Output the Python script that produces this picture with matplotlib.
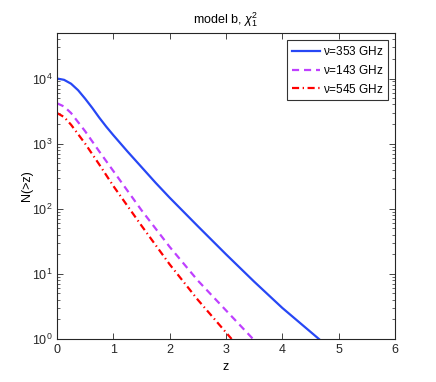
import matplotlib
matplotlib.use('Agg')
import matplotlib.pyplot as plt
import numpy as np

plt.rcParams['font.family'] = ['Liberation Sans', 'DejaVu Sans']
plt.rcParams['mathtext.fontset'] = 'custom'
plt.rcParams['mathtext.rm'] = 'Liberation Sans'
plt.rcParams['mathtext.it'] = 'Liberation Sans:italic'

# values
z_353 = [0, 0.125, 0.25, 0.375, 0.5, 0.625, 0.75, 0.875, 1.0, 1.25, 1.5, 1.75, 2.0,
         2.5, 3.0, 3.5, 4.0, 4.65]
n_353 = [10000, 9550, 8320, 6610, 4900, 3550, 2510, 1820, 1350, 760, 437, 251, 148,
         54, 20, 7.6, 3.0, 1.0]

z_143 = [0, 0.125, 0.25, 0.5, 0.75, 1.0, 1.5, 2.0, 2.5, 3.0, 3.48]
n_143 = [4170, 3720, 2950, 1550, 760, 380, 95, 26, 7.9, 2.75, 1.0]

z_545 = [0, 0.125, 0.25, 0.5, 0.75, 1.0, 1.5, 2.0, 2.5, 3.0, 3.1]
n_545 = [2950, 2570, 1950, 1000, 479, 224, 55, 14, 4.0, 1.26, 1.0]

labels = [r'$\mathregular{\nu}$=353 GHz', r'$\mathregular{\nu}$=143 GHz', r'$\mathregular{\nu}$=545 GHz']

fig = plt.figure(figsize=(4.36, 3.82), dpi=100)
ax = fig.add_axes([0.1307, 0.1126, 0.7752, 0.801])

ax.semilogy(z_353, n_353, '-', color='#2747f5', lw=1.6, label=labels[0])
ax.semilogy(z_143, n_143, '--', color='#bf40ff', lw=1.6, dashes=(3.2, 2.2), label=labels[1])
ax.semilogy(z_545, n_545, '-.', color='#ff0000', lw=1.6, dashes=(3.2, 1.6, 0.6, 1.6), label=labels[2])

ax.set_xlim(0, 6)
ax.set_ylim(1, 5e4)
ax.set_xticks(range(0, 7))
ax.set_yticks([1, 10, 100, 1000, 10000])

ax.tick_params(which='both', direction='in', top=True, right=True, labelsize=9, colors='#262626')
ax.tick_params(which='major', length=4, width=0.6)
ax.tick_params(which='minor', length=2, width=0.5)
ax.tick_params(axis='x', which='minor', top=False, bottom=False)
for s in ax.spines.values():
    s.set_linewidth(0.8)
    s.set_color('#262626')

ax.set_xlabel('z', fontsize=9, labelpad=4)
ax.set_ylabel('N(>z)', fontsize=9, labelpad=-1)
ax.set_title(r'model b, $\chi^2_1$', fontsize=9, pad=7)

leg = ax.legend(loc='upper right', fontsize=8.5, frameon=True, fancybox=False,
                edgecolor='black', borderpad=0.4, handlelength=2.4,
                handletextpad=0.2, labelspacing=0.5, borderaxespad=0.6)
leg.get_frame().set_linewidth(0.8)

fig.savefig('out.png', dpi=100)
